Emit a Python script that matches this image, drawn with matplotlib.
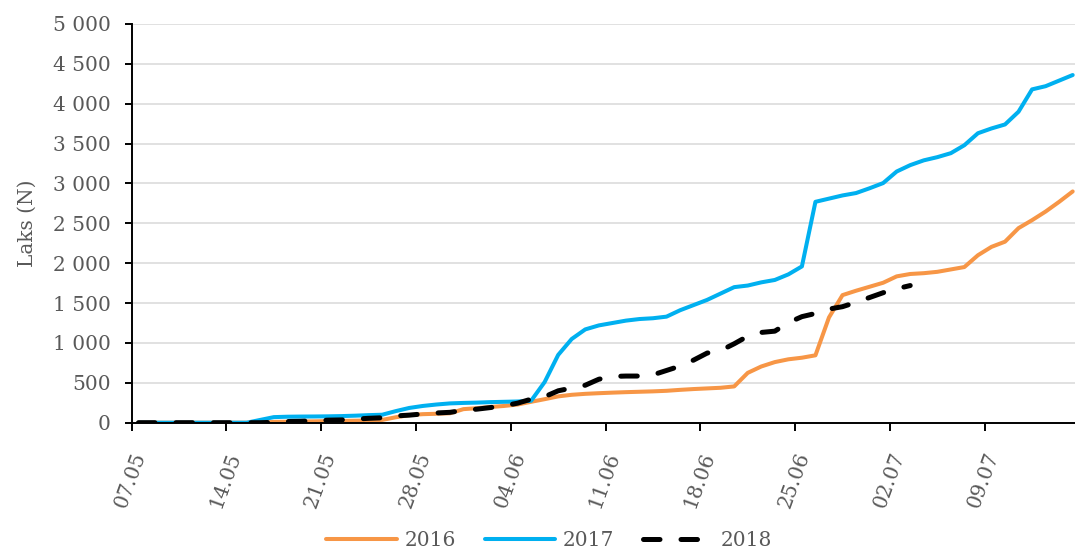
import matplotlib
matplotlib.use("Agg")
import matplotlib.pyplot as plt
import matplotlib.dates as mdates
from matplotlib.ticker import FuncFormatter, MultipleLocator
import pandas as pd

# daily counts from 07.05 (same calendar day for each season)
start = "2018-05-07"
laks_2016 = [0, 0, 0, 0, 0, 0, 0, 0, 0, 0,
             10, 12, 15, 17, 20, 22, 25, 28, 35, 68,
             95, 107, 112, 118, 170, 182, 197, 210, 228, 262,
             295, 330, 350, 362, 370, 377, 383, 388, 393, 400,
             412, 422, 430, 438, 455, 625, 705, 760, 795, 815,
             845, 1320, 1600, 1655, 1705, 1755, 1835, 1865, 1875, 1892,
             1922, 1952, 2100, 2205, 2270, 2440, 2540, 2648, 2770, 2900]
laks_2017 = [0, 0, 0, 0, 0, 0, 0, 0, 0, 35,
             70, 75, 77, 78, 80, 83, 88, 95, 100, 145,
             185, 210, 228, 242, 248, 252, 258, 262, 266, 275,
             510, 850, 1050, 1170, 1220, 1250, 1280, 1300, 1310, 1330,
             1410, 1475, 1540, 1620, 1700, 1720, 1760, 1790, 1860, 1960,
             2770, 2810, 2850, 2880, 2940, 3005, 3150, 3230, 3290, 3330,
             3380, 3480, 3630, 3690, 3740, 3900, 4180, 4220, 4290, 4360]
laks_2018 = [0, 0, 0, 0, 0, 0, 0, 0, 0, 0,
             5, 15, 18, 25, 32, 35, 45, 55, 62, 85,
             95, 110, 122, 130, 155, 170, 190, 212, 245, 295,
             326, 400, 435, 470, 545, 580, 585, 585, 600, 655,
             710, 785, 873, 905, 990, 1085, 1132, 1148, 1255, 1330,
             1370, 1425, 1455, 1510, 1570, 1630, 1680, 1720]

days = pd.date_range(start, periods=len(laks_2016), freq="D")
x = days + pd.Timedelta(hours=12)  # points sit between tick marks
ticks = pd.date_range(start, periods=10, freq="7D")

grey = "#595959"
fs = 14.5
plt.rcParams["font.family"] = "DejaVu Serif"

fig = plt.figure(figsize=(10.75, 5.54), dpi=100)
ax = fig.add_axes([0.1225, 0.237, 0.8775, 0.7197])

ax.plot(x, laks_2016, color="#F79646", lw=2.9, label="2016", solid_capstyle="round")
ax.plot(x, laks_2017, color="#00B0F0", lw=2.9, label="2017", solid_capstyle="round")
ax.plot(x[:len(laks_2018)], laks_2018, color="black", lw=3.6, label="2018",
        dashes=(3.3, 4.2), dash_capstyle="round")

ax.set_xlim(pd.Timestamp(start), pd.Timestamp(start) + pd.Timedelta(days=69.67))
ax.set_ylim(0, 5000)
ax.yaxis.set_major_locator(MultipleLocator(500))
ax.yaxis.set_major_formatter(FuncFormatter(lambda v, p: f"{int(v):,}".replace(",", " ")))
ax.set_xticks(ticks)
ax.xaxis.set_major_formatter(mdates.DateFormatter("%d.%m"))

ax.grid(axis="y", color="#D9D9D9", lw=1.1)
ax.set_axisbelow(True)
for s in ["top", "right"]:
    ax.spines[s].set_visible(False)
for s in ["left", "bottom"]:
    ax.spines[s].set_linewidth(1.4)

ax.tick_params(axis="y", length=4.8, width=1.4, pad=10.5, labelsize=fs, labelcolor=grey)
ax.tick_params(axis="x", length=5.5, width=1.4, pad=14, labelsize=fs, labelcolor=grey)
for lab in ax.get_xticklabels():
    lab.set_rotation(70)
    lab.set_ha("right")
    lab.set_va("top")
    lab.set_rotation_mode("anchor")

ax.set_ylabel("Laks (N)", fontsize=fs, color=grey)
ax.yaxis.set_label_coords(-0.101, 0.5)

fig.legend(loc="center", bbox_to_anchor=(0.511, 0.0235), ncol=3, frameon=False,
           fontsize=fs, labelcolor=grey, handlelength=3.5, handletextpad=0.36,
           columnspacing=1.45)

fig.savefig("out.png", dpi=100)
